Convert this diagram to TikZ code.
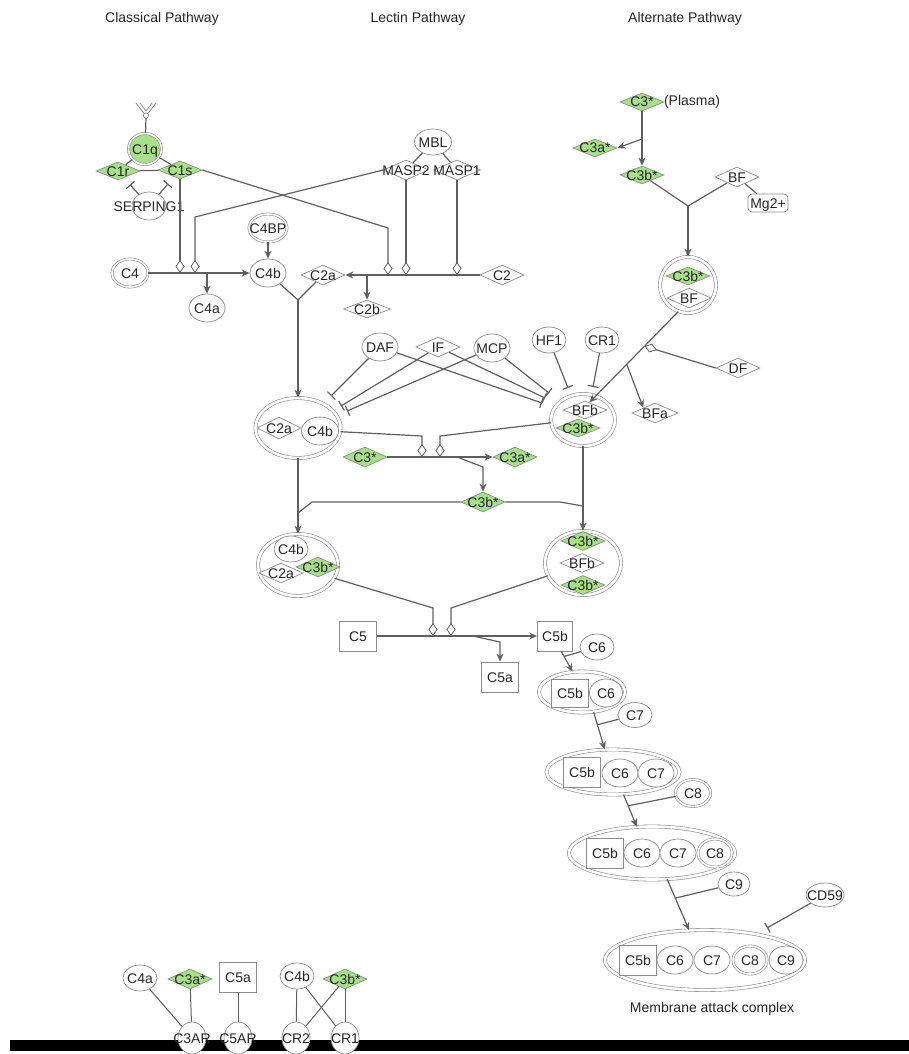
\documentclass[tikz,border=0pt]{standalone}
\usepackage{fontspec}
\setmainfont{Liberation Sans}
\usetikzlibrary{shapes.geometric,arrows.meta,calc}
\definecolor{grn}{RGB}{166,224,136}
\definecolor{ln}{RGB}{95,95,95}
\definecolor{ol}{RGB}{140,140,140}
\newcommand{\zb}[1]{\makebox[0pt]{#1}}
\begin{document}
\begin{tikzpicture}[x=1pt,y=-1pt,
  every node/.style={font=\fontsize{14}{16}\selectfont, text=black!85, inner sep=0pt, text height=10pt, text depth=0pt},
  circ/.style={ellipse, draw=ol, fill=white, line width=0.7pt, minimum width=36pt, minimum height=28pt},
  dbl/.style={circ, double=white, double distance=1.6pt, line width=0.6pt},
  dia/.style={diamond, draw=ol, fill=white, line width=0.7pt, minimum width=44pt, minimum height=20pt},
  gdia/.style={dia, fill=grn},
  box/.style={rectangle, draw=ol, fill=white, line width=0.7pt, minimum width=37pt, minimum height=30pt},
  cplx/.style={ellipse, draw=ol, double=white, double distance=2.6pt, line width=0.6pt, fill=white},
  con/.style={draw=ln, line width=1.2pt},
  arr/.style={con, -{Stealth[length=8pt,width=7pt]}},
  mod/.style={con, -{Diamond[length=13pt,width=9pt,fill=white,line width=0.8pt]}},
  inh/.style={con, -{Bar[width=11pt,line width=1.2pt]}}
]
\useasboundingbox (0,0) rectangle (909,1054);

% titles
\node (tcl) at (162,18) {\zb{Classical Pathway}};
\node (tle) at (418,18) {\zb{Lectin Pathway}};
\node (tal) at (685,18) {\zb{Alternate Pathway}};

% antibody symbol
\draw[ol, line width=0.8pt] (136,103) -- (146,116) -- (156,103);
\draw[ol, line width=0.8pt] (140,103) -- (146,111) -- (152,103);
\draw[ol, line width=0.8pt, fill=white] (146,115.5) circle (2.6);
\coordinate (abst) at (146,118);

% classical nodes
\node[dbl, fill=grn, minimum width=33pt, minimum height=31pt] (C1q) at (145,149) {\zb{C1q}};
\node[gdia, minimum height=18pt] (C1r) at (118,171) {\zb{C1r}};
\node[gdia, minimum height=18pt] (C1s) at (180,170) {\zb{C1s}};
\node[circ, minimum width=34pt] (SERP) at (149,206) {\zb{SERPING1}};
\node[dbl] (C4) at (130,273) {\zb{C4}};
\node[circ] (C4b) at (268,273) {\zb{C4b}};
\node[circ] (C4a) at (207,308) {\zb{C4a}};
\node[dbl, minimum width=38pt] (C4BP) at (268,228) {\zb{C4BP}};

% lectin nodes
\node[circ, minimum width=37pt, minimum height=26pt] (MBL) at (433,142) {\zb{MBL}};
\node[dia, minimum width=45pt] (MASP2) at (406,170) {\zb{MASP2}};
\node[dia, minimum width=47pt] (MASP1) at (457,170) {\zb{MASP1}};
\node[dia] (C2) at (502,275) {\zb{C2}};
\node[dia] (C2a) at (323,275) {\zb{C2a}};
\node[dia, minimum width=47pt, minimum height=18pt] (C2b) at (367,309) {\zb{C2b}};

% alternate nodes
\node[gdia, minimum height=18pt] (C3P) at (642,102) {\zb{C3*}};
\node (plasma) at (692,101) {\zb{(Plasma)}};
\node[gdia, minimum height=18pt] (C3aA) at (595,148) {\zb{C3a*}};
\node[gdia, minimum height=18pt] (C3bA) at (642,175) {\zb{C3b*}};
\node[dia] (BF) at (737,177) {\zb{BF}};
\node[box, rounded corners=4pt, minimum width=40pt, minimum height=18pt] (Mg) at (768,203) {\zb{Mg2+}};
\node[cplx, minimum width=56pt, minimum height=56pt] (cxA) at (688,285) {};
\node[gdia, minimum height=18pt] (C3bX) at (688,276) {\zb{C3b*}};
\node[dia] (BFX) at (689,298) {\zb{BF}};

% regulators
\node[circ] (DAF) at (380,347) {\zb{DAF}};
\node[dia] (IF) at (438,347) {\zb{IF}};
\node[circ] (MCP) at (492,348) {\zb{MCP}};
\node[circ, minimum width=34pt, minimum height=26pt] (HF1) at (549,340) {\zb{HF1}};
\node[circ, minimum width=34pt, minimum height=26pt] (CR1a) at (602,340) {\zb{CR1}};
\node[dia] (DF) at (738,368) {\zb{DF}};
\node[dia, minimum width=46pt] (BFa) at (655,413) {\zb{BFa}};

% C3 convertases
\node[cplx, minimum width=85pt, minimum height=60pt] (cx1) at (298,428) {};
\node[dia, minimum height=22pt] (C2a1) at (279,428) {\zb{C2a}};
\node[circ, minimum width=37pt] (C4b1) at (320,431) {\zb{C4b}};
\node[cplx, minimum width=64pt, minimum height=52pt] (cx2) at (583,420) {};
\node[dia, minimum height=18pt] (BFb2) at (585,410) {\zb{BFb}};
\node[gdia, minimum height=18pt] (C3b2) at (578,428) {\zb{C3b*}};

\node[gdia] (C3M) at (365,457) {\zb{C3*}};
\node[gdia] (C3aM) at (515,457) {\zb{C3a*}};
\node[gdia] (C3bM) at (483,502) {\zb{C3b*}};

% C5 convertases
\node[cplx, minimum width=80pt, minimum height=62pt] (cx3) at (298,565) {};
\node[circ, minimum width=34pt, minimum height=26pt] (C4b3) at (291,549) {\zb{C4b}};
\node[dia] (C2a3) at (281,573) {\zb{C2a}};
\node[gdia] (C3b3) at (318,567) {\zb{C3b*}};
\node[cplx, minimum width=76pt, minimum height=64pt] (cx4) at (583,563) {};
\node[gdia, minimum height=19pt] (C3b4a) at (583,541) {\zb{C3b*}};
\node[dia, minimum height=19pt] (BFb4) at (582,563) {\zb{BFb}};
\node[gdia, minimum height=19pt] (C3b4b) at (583,585) {\zb{C3b*}};

% C5 reaction
\node[box] (C5) at (358,636) {\zb{C5}};
\node[box, minimum width=35pt] (C5b) at (555,636) {\zb{C5b}};
\node[box] (C5a) at (500,677) {\zb{C5a}};
\node[circ, minimum width=34pt, minimum height=26pt] (C6) at (597,647) {\zb{C6}};

% MAC assembly
\node[cplx, minimum width=86pt, minimum height=41pt] (cx56) at (582,692) {};
\node[box, minimum height=28pt] (C5b56) at (570,693) {\zb{C5b}};
\node[circ, minimum width=33pt] (C656) at (606,693) {\zb{C6}};
\node[circ, minimum width=34pt, minimum height=25pt] (C7) at (635,715) {\zb{C7}};

\node[cplx, minimum width=133pt, minimum height=45pt] (cx567) at (613,772) {};
\node[box] (C5b567) at (582,772) {\zb{C5b}};
\node[circ] (C6567) at (620,773) {\zb{C6}};
\node[circ] (C7567) at (656,773) {\zb{C7}};
\node[dbl, minimum width=35pt, minimum height=27pt] (C8) at (693,793) {\zb{C8}};

\node[cplx, minimum width=166pt, minimum height=53pt] (cx5678) at (652,853) {};
\node[box] (C5b4) at (605,853) {\zb{C5b}};
\node[circ] (C64) at (642,853) {\zb{C6}};
\node[circ] (C74) at (678,853) {\zb{C7}};
\node[dbl, minimum width=34pt] (C84) at (715,853) {\zb{C8}};
\node[circ, minimum width=32pt, minimum height=24pt] (C9) at (734,884) {\zb{C9}};
\node[circ, minimum width=38pt, minimum height=24pt] (CD59) at (825,895) {\zb{CD59}};

\node[cplx, minimum width=200pt, minimum height=60pt] (MAC) at (705,960) {};
\node[box] (C5bM) at (638,960) {\zb{C5b}};
\node[circ] (C6M) at (675,960) {\zb{C6}};
\node[circ] (C7M) at (712,960) {\zb{C7}};
\node[dbl, minimum width=34pt] (C8M) at (750,960) {\zb{C8}};
\node[circ, minimum width=34pt] (C9M) at (786,960) {\zb{C9}};
\node (macl) at (712,1007) {\zb{Membrane attack complex}};

% receptors
\node[circ, minimum width=34pt, minimum height=26pt] (C4aB) at (140,978) {\zb{C4a}};
\node[gdia] (C3aB) at (190,979) {\zb{C3a*}};
\node[box] (C5aB) at (238,977) {\zb{C5a}};
\node[circ, minimum width=34pt, minimum height=26pt] (C4bB) at (297,976) {\zb{C4b}};
\node[gdia] (C3bB) at (345,979) {\zb{C3b*}};
\fill[black] (10,1040) rectangle (909,1051);
\node[circ, minimum width=28pt, minimum height=32pt] (C3AR) at (192,1038) {\zb{C3AR}};
\node[circ, minimum width=28pt, minimum height=32pt] (C5AR) at (238,1038) {\zb{C5AR}};
\node[circ, minimum width=28pt, minimum height=32pt] (CR2) at (296,1038) {\zb{CR2}};
\node[circ, minimum width=28pt, minimum height=32pt] (CR1b) at (345,1038) {\zb{CR1}};

% ---------- connectors ----------
% classical
\draw[con] (abst) -- (C1q);
\draw[con] (C1q) -- (C1r);
\draw[con] (C1q) -- (C1s);
\draw[con] (C1r) -- (C1s);
\draw[inh, shorten >=9pt] (SERP) -- (C1r);
\draw[inh, shorten >=9pt] (SERP) -- (C1s);
\draw[arr] (C4) -- (C4b);
\coordinate (c4br) at (207,273);
\draw[arr] (c4br) -- (C4a);
\draw[arr] (C4BP) -- (C4b);
\draw[mod] (C1s.south) -- (C1s.south |- C4.east);
\coordinate (a1) at (195,217);
\draw[mod] (MASP2.west) -- (a1) -- (a1 |- C4.east);

% lectin
\coordinate (b1) at (388,228);
\draw[mod] (C1s.east) -- (b1) -- (b1 |- C2.west);
\draw[mod] (MASP2.south) -- (MASP2.south |- C2.west);
\draw[mod] (MASP1.south) -- (MASP1.south |- C2.west);
\draw[con] (MBL) -- (MASP2);
\draw[con] (MBL) -- (MASP1);
\draw[arr] (C2) -- (C2a);
\coordinate (c2br) at (367,275);
\draw[arr] (c2br) -- (C2b);
\coordinate (j1) at (298,300);
\draw[con] (C4b) -- (j1);
\draw[con] (C2a) -- (j1);
\draw[arr] (j1) -- (cx1);

% alternate
\draw[arr] (C3P) -- (C3bA);
\coordinate (j3) at (642,139);
\draw[arr] (j3) -- (C3aA.east);
\coordinate (j2) at (688,206);
\draw[con] (C3bA) -- (j2);
\draw[con] (BF) -- (j2);
\draw[arr] (j2) -- (cxA);
\draw[con] (BF) -- (Mg);
\coordinate (ps) at (cxA.250);
\coordinate (pe) at (BFb2.60);
\draw[arr] (ps) -- (pe);
\coordinate (dfp) at ($(ps)!0.38!(pe)$);
\draw[mod] (DF.west) -- (dfp);
\coordinate (bfp) at ($(ps)!0.58!(pe)$);
\draw[arr] (bfp) -- (BFa.north west);

% regulators
\coordinate (iA1) at (331,396);
\coordinate (iA2) at (341,406);
\coordinate (iA3) at (347,411);
\draw[inh] (DAF) -- (iA1);
\draw[inh] (IF) -- (iA2);
\draw[inh] (MCP) -- (iA3);
\coordinate (iB1) at (542,403);
\coordinate (iB2) at (545,398);
\coordinate (iB3) at (549,393);
\coordinate (iB4) at (568,388);
\coordinate (iB5) at (593,387);
\draw[inh] (DAF) -- (iB1);
\draw[inh] (IF) -- (iB2);
\draw[inh] (MCP) -- (iB3);
\draw[inh] (HF1) -- (iB4);
\draw[inh] (CR1a) -- (iB5);

% C3 cleavage
\draw[arr] (C3M) -- (C3aM);
\coordinate (m1) at (422,436);
\draw[mod] (cx1.-5) -- (m1) -- (m1 |- C3M.east);
\coordinate (m2) at (440,436);
\draw[mod] (cx2.185) -- (m2) -- (m2 |- C3M.east);
\coordinate (j4) at (457,457);
\coordinate (j4b) at (483,467);
\draw[arr] (j4) -- (j4b) -- (C3bM);
\draw[arr] (cx1) -- (cx3);
\draw[arr] (cx2) -- (cx4);
\coordinate (j5) at (298,513);
\coordinate (k5) at (312,502);
\draw[con] (C3bM.west) -- (k5) -- (j5);
\coordinate (j6) at (583,506);
\coordinate (k6) at (560,502);
\draw[con] (C3bM.east) -- (k6) -- (j6);

% C5 cleavage
\draw[arr] (C5) -- (C5b);
\coordinate (m3) at (433,608);
\draw[mod] (cx3.-20) -- (m3) -- (m3 |- C5.east);
\coordinate (m4) at (451,608);
\draw[mod] (cx4.200) -- (m4) -- (m4 |- C5.east);
\coordinate (j7) at (473,636);
\coordinate (k7) at (500,642);
\draw[arr] (j7) -- (k7) -- (C5a);

% MAC assembly
\coordinate (s1) at ($(C5b.south)!0.35!(C5b.south east)$);
\coordinate (e1) at (cx56.115);
\draw[arr] (s1) -- (e1);
\coordinate (j8) at ($(s1)!0.25!(e1)$);
\draw[con] (C6) -- (j8);
\coordinate (s2) at (cx56.-60);
\coordinate (e2) at (cx567.110);
\draw[arr] (s2) -- (e2);
\coordinate (j9) at ($(s2)!0.34!(e2)$);
\draw[con] (C7) -- (j9);
\coordinate (s3) at (cx567.-65);
\coordinate (e3) at (cx5678.120);
\draw[arr] (s3) -- (e3);
\coordinate (j10) at ($(s3)!0.35!(e3)$);
\draw[con] (C8) -- (j10);
\coordinate (s4) at (cx5678.-60);
\coordinate (e4) at (MAC.118);
\draw[arr] (s4) -- (e4);
\coordinate (j11) at ($(s4)!0.37!(e4)$);
\draw[con] (C9) -- (j11);
\coordinate (cdb) at (767,928);
\draw[inh] (CD59) -- (cdb);

% receptors
\draw[con, line width=1pt] (C4aB) -- (C3AR);
\draw[con, line width=1pt] (C3aB) -- (C3AR);
\draw[con, line width=1pt] (C5aB) -- (C5AR);
\draw[con, line width=1pt] (C4bB) -- (CR2);
\draw[con, line width=1pt] (C4bB) -- (CR1b);
\draw[con, line width=1pt] (C3bB) -- (CR2);
\draw[con, line width=1pt] (C3bB) -- (CR1b);
\end{tikzpicture}
\end{document}
